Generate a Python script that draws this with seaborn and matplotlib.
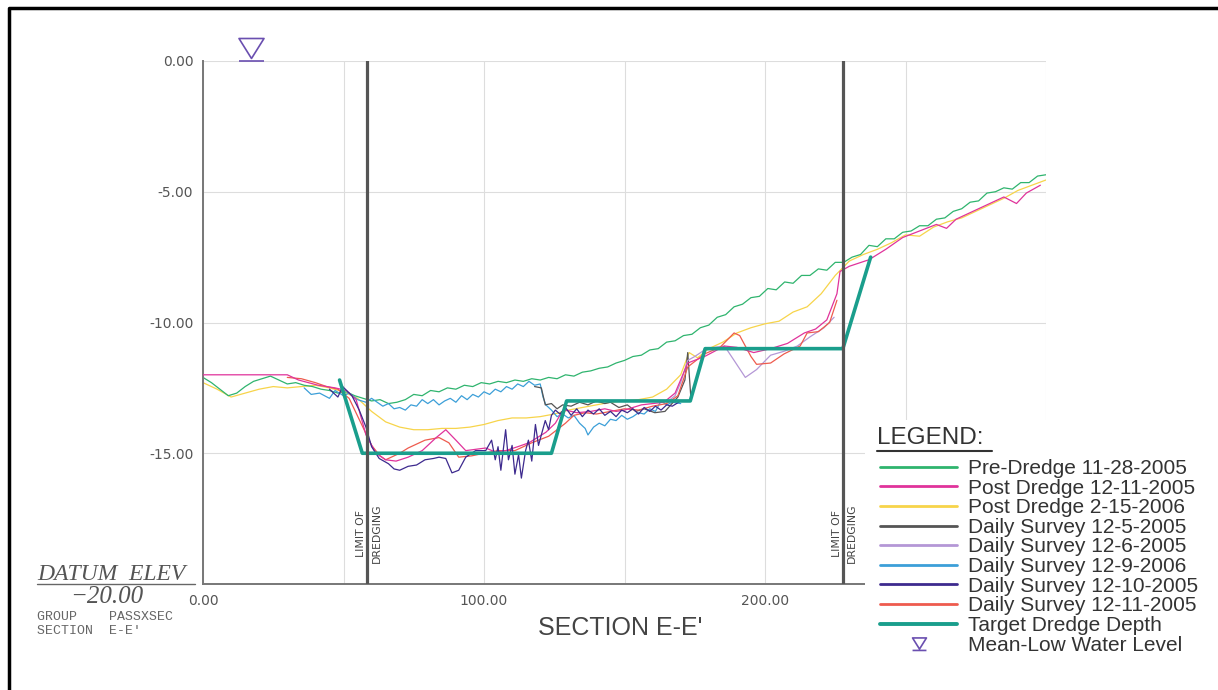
import numpy as np
import pandas as pd
import matplotlib.pyplot as plt
import seaborn as sns
from matplotlib.lines import Line2D
from matplotlib.patches import Rectangle
from matplotlib.path import Path


pre_x = list(range(0, 301, 3))
pre_y = [-12.10, -12.30, -12.55, -12.80, -12.70, -12.45, -12.25, -12.15, -12.05, -12.20,
         -12.35, -12.30, -12.40, -12.45, -12.55, -12.60, -12.70, -12.65, -12.80, -12.90,
         -13.00, -12.95, -13.10, -13.05, -12.95, -12.75, -12.80, -12.60, -12.65, -12.50,
         -12.55, -12.40, -12.45, -12.30, -12.35, -12.25, -12.30, -12.20, -12.25, -12.15,
         -12.20, -12.10, -12.15, -12.00, -12.05, -11.90, -11.85, -11.75, -11.70, -11.55,
         -11.45, -11.30, -11.25, -11.05, -11.00, -10.75, -10.70, -10.50, -10.45, -10.20,
         -10.10, -9.80, -9.70, -9.40, -9.30, -9.05, -9.00, -8.70, -8.75, -8.45,
         -8.50, -8.20, -8.20, -7.95, -8.00, -7.70, -7.70, -7.50, -7.40, -7.05,
         -7.10, -6.80, -6.80, -6.55, -6.50, -6.30, -6.30, -6.05, -6.00, -5.75,
         -5.65, -5.40, -5.35, -5.05, -5.00, -4.85, -4.90, -4.65, -4.65, -4.40,
         -4.35]

post1211_x = [0, 10, 20, 30, 34, 41, 47, 51, 54.5, 58, 61.6, 65, 68.7, 73, 78, 83, 86.4, 90,
              93.5, 97, 100.6, 104, 107.7, 112, 116, 119, 122, 125.4, 127, 129, 133, 138,
              143, 147, 150, 153, 156, 160, 164, 168, 172.5, 178.5, 185.6, 190, 196, 202,
              208, 214, 218, 222, 225.6, 226.7, 230, 237, 243, 249, 255, 261, 264.6, 268,
              273, 279, 285, 289.5, 293, 298]
post1211_y = [-12.00, -12.00, -12.00, -12.00, -12.20, -12.40, -12.50, -12.60, -12.95, -14.30,
              -15.00, -15.25, -15.30, -15.15, -14.90, -14.40, -14.10, -14.50, -14.90, -14.85,
              -14.80, -14.95, -14.90, -14.75, -14.60, -14.40, -14.20, -13.85, -13.55, -13.35,
              -13.45, -13.40, -13.30, -13.40, -13.35, -13.25, -13.15, -13.10, -13.05, -12.70,
              -11.55, -11.30, -10.90, -10.95, -11.15, -11.00, -10.80, -10.40, -10.25, -9.90,
              -8.90, -8.05, -7.85, -7.60, -7.20, -6.75, -6.50, -6.25, -6.40, -6.05,
              -5.80, -5.50, -5.20, -5.45, -5.05, -4.75]

post0215_x = [0, 5, 10, 15, 20, 25, 30, 35, 40, 45, 50, 55, 60, 65, 70, 75, 80, 85, 90, 95,
              100, 105, 110, 115, 120, 125, 130, 135, 140, 145, 150, 155, 160, 165, 170, 173,
              176, 180, 185, 190, 195, 200, 205, 210, 215, 220, 225, 230, 235, 240, 245, 250,
              255, 260, 265, 270, 275, 280, 285, 290, 295, 300]
post0215_y = [-12.30, -12.55, -12.85, -12.70, -12.55, -12.45, -12.50, -12.45, -12.40, -12.50,
              -12.65, -12.90, -13.40, -13.80, -14.00, -14.10, -14.10, -14.05, -14.05, -14.00,
              -13.90, -13.75, -13.65, -13.65, -13.60, -13.50, -13.35, -13.25, -13.15, -13.05,
              -13.00, -12.95, -12.85, -12.55, -12.00, -11.15, -11.35, -11.00, -10.75, -10.40,
              -10.20, -10.05, -9.95, -9.60, -9.40, -8.90, -8.20, -7.65, -7.40, -7.20,
              -6.95, -6.65, -6.70, -6.35, -6.15, -6.00, -5.75, -5.50, -5.25, -4.95,
              -4.75, -4.55]

d1205_x = [118, 120.4, 121.8, 124, 126, 128, 131, 134, 137, 140, 143, 145, 148, 151, 154,
           157, 160.8, 164.4, 166.5, 169, 171.5, 172.5, 173.6]
d1205_y = [-12.45, -12.50, -13.15, -13.10, -13.30, -13.15, -13.20, -13.05, -13.15, -13.00,
           -13.10, -13.05, -13.25, -13.15, -13.40, -13.30, -13.45, -13.40, -13.15, -12.85,
           -12.20, -11.15, -12.85]

d1206_x = [165, 168, 170, 172.5, 175, 178.5, 182, 185.6, 189, 193, 197, 202, 206.8, 211.5,
           216, 221, 224.6]
d1206_y = [-13.05, -12.80, -12.30, -11.45, -11.30, -11.05, -10.95, -10.90, -11.45, -12.10,
           -11.80, -11.25, -11.10, -10.90, -10.55, -10.20, -9.80]

d1209_x = [36, 38.5, 41.5, 45, 47, 50, 52, 55, 58, 60, 62, 64, 66, 68, 70, 72, 74, 76, 78,
           80, 82, 84, 86, 88, 90, 92, 94, 96, 98, 100, 102, 104, 106, 108, 110, 112, 114,
           116, 118, 120, 121, 122, 124, 126, 128, 130, 132, 134, 136, 137, 139, 141, 143,
           145, 147, 149, 151, 153, 155, 157, 159, 161, 163, 165, 167, 170]
d1209_y = [-12.50, -12.75, -12.70, -12.90, -12.60, -12.80, -12.70, -12.95, -13.05, -12.90,
           -13.05, -13.20, -13.10, -13.30, -13.25, -13.35, -13.15, -13.20, -12.95, -13.10,
           -12.95, -13.15, -13.00, -12.90, -13.05, -12.80, -12.95, -12.75, -12.85, -12.65,
           -12.75, -12.55, -12.65, -12.45, -12.55, -12.35, -12.45, -12.25, -12.40, -12.35,
           -12.85, -13.15, -13.35, -13.60, -13.50, -13.65, -13.55, -13.85, -14.05, -14.30,
           -14.00, -13.85, -13.95, -13.70, -13.75, -13.55, -13.70, -13.60, -13.45, -13.50,
           -13.30, -13.40, -13.00, -13.15, -13.05, -13.10]

d1210_x = [45, 48, 49.7, 53, 55.6, 58, 60, 62.7, 66, 68, 70, 73, 76, 79, 82, 84, 86.4, 88.6,
           91, 93.5, 97, 100.6, 102.7, 104, 105, 106, 107.7, 108.7, 110, 111, 112.3, 113.3,
           114.8, 115.8, 117, 118.3, 119.4, 120.4, 121.8, 123, 124, 125.4, 127, 129, 131,
           133, 135, 137, 139, 141, 143, 145, 147, 149, 151, 153, 155, 157, 159, 161, 163,
           165, 167, 170]
d1210_y = [-12.55, -12.85, -12.45, -12.80, -13.35, -14.00, -14.75, -15.20, -15.40, -15.60,
           -15.65, -15.50, -15.45, -15.25, -15.20, -15.15, -15.20, -15.75, -15.65, -15.15,
           -14.90, -14.90, -14.50, -15.25, -14.75, -15.65, -14.10, -15.25, -14.70, -15.80,
           -15.05, -15.95, -14.90, -14.50, -15.30, -13.90, -14.70, -14.30, -13.75, -14.10,
           -13.55, -13.35, -13.50, -13.25, -13.55, -13.30, -13.60, -13.35, -13.50, -13.30,
           -13.55, -13.40, -13.60, -13.35, -13.45, -13.30, -13.50, -13.25, -13.40, -13.20,
           -13.35, -13.15, -13.20, -13.00]

d1211_x = [30, 35, 40, 44, 48, 52, 56, 60, 63, 65, 70, 73, 79, 84, 87.5, 91, 95.6, 100, 105,
           111, 117, 123, 129, 132, 136, 140, 145, 150, 155, 160, 165, 169, 172.5, 178.5,
           184, 189, 191, 195, 197, 202, 206.8, 212.5, 215, 219, 223, 225.6]
d1211_y = [-12.10, -12.15, -12.30, -12.45, -12.55, -12.90, -13.80, -14.70, -15.10, -15.25,
           -15.00, -14.80, -14.50, -14.40, -14.60, -15.15, -15.10, -15.00, -14.90, -14.90,
           -14.60, -14.35, -13.85, -13.55, -13.45, -13.50, -13.40, -13.30, -13.35, -13.20,
           -13.10, -12.80, -11.70, -11.20, -10.95, -10.40, -10.50, -11.30, -11.60, -11.55,
           -11.20, -10.90, -10.40, -10.35, -10.00, -9.15]

target_x = [48.6, 56.7, 124, 129.4, 173.4, 178.7, 227.7, 237.6]
target_y = [-12.2, -15.0, -15.0, -13.0, -13.0, -11.0, -11.0, -7.5]

limit_x = [58.5, 227.7]
mlw_x = [17.0]
mlw_y = [0.48]

labels = ['Pre-Dredge 11-28-2005', 'Post Dredge 12-11-2005', 'Post Dredge 2-15-2006',
          'Daily Survey 12-5-2005', 'Daily Survey 12-6-2005', 'Daily Survey 12-9-2006',
          'Daily Survey 12-10-2005', 'Daily Survey 12-11-2005', 'Target Dredge Depth',
          'Mean-Low Water Level']
colors = ['#2fb46e', '#e0339b', '#f7d44a', '#555555', '#b497d6', '#3c9fd8',
          '#3d2a8e', '#ee5b4e', '#1a9e8c', '#6a4fb0']

xtick_vals = [0, 50, 100, 150, 200, 250, 300]
xtick_labels = ['0.00', '', '100.00', '', '200.00', '', '']
ytick_vals = [0, -5, -10, -15, -20]
ytick_labels = ['0.00', '-5.00', '-10.00', '-15.00', '']


sns.set_style('white')
plt.rcParams['font.family'] = ['Liberation Sans', 'DejaVu Sans']

fig = plt.figure(figsize=(12.18, 6.9), dpi=100)
ax = fig.add_axes([203/1218, 106/690, 843/1218, 523/690])

# (x, y, label index, linewidth, zorder) -- drawing order
series = [
    (post0215_x, post0215_y, 2, 0.9, 2),
    (pre_x, pre_y, 0, 0.9, 2),
    (d1209_x, d1209_y, 5, 0.9, 3),
    (d1205_x, d1205_y, 3, 0.9, 3),
    (d1206_x, d1206_y, 4, 0.9, 3),
    (d1211_x, d1211_y, 7, 0.9, 3),
    (post1211_x, post1211_y, 1, 0.9, 3),
    (d1210_x, d1210_y, 6, 0.9, 3),
    (target_x, target_y, 8, 2.6, 4),
]
for xs, ys, i, lw, z in series:
    sns.lineplot(x=xs, y=ys, ax=ax, color=colors[i], linewidth=lw, estimator=None,
                 sort=False, label=labels[i], legend=False, zorder=z)

# limit of dredging lines
for lx in limit_x:
    ax.axvline(lx, color='#555555', lw=2.3, zorder=5)
    ax.text(lx - 2.1, -18.05, 'LIMIT OF', rotation=90, ha='center', va='center',
            fontsize=7.8, color='#444444', family='DejaVu Sans')
    ax.text(lx + 3.2, -18.05, 'DREDGING', rotation=90, ha='center', va='center',
            fontsize=7.8, color='#444444', family='DejaVu Sans')

# mean low water symbol: open triangle over a bar
mlw_path = Path([(-1, 0.8), (1, 0.8), (0, -0.8), (-1, 0.8), (-1, -1), (1, -1)],
                [Path.MOVETO, Path.LINETO, Path.LINETO, Path.CLOSEPOLY, Path.MOVETO, Path.LINETO])
ax.plot(mlw_x, mlw_y, ls='none', marker=mlw_path, markersize=18, mfc='none',
        mec=colors[9], mew=1.2, clip_on=False, zorder=6)

ax.set_xlim(0, 300)
ax.set_ylim(-20, 0)
ax.set_xticks(xtick_vals)
ax.set_xticklabels(xtick_labels)
ax.set_yticks(ytick_vals)
ax.set_yticklabels(ytick_labels)
ax.tick_params(length=0, labelsize=10, labelcolor='#555555', pad=7)
for t in ax.get_xticklabels() + ax.get_yticklabels():
    t.set_family('DejaVu Sans')
ax.grid(True, color='#dddddd', lw=0.8)
ax.set_axisbelow(True)
for s in ['top', 'right']:
    ax.spines[s].set_visible(False)
for s in ['left', 'bottom']:
    ax.spines[s].set_color('#777777')
    ax.spines[s].set_linewidth(1.4)
ax.set_xlabel('')
ax.set_ylabel('')

# white panel behind the legend
fig.add_artist(Rectangle((865/1218, 0), 353/1218, 270/690, transform=fig.transFigure,
                         facecolor='white', edgecolor='none', zorder=3))

handles, hl = ax.get_legend_handles_labels()
hmap = dict(zip(hl, handles))
leg_handles = [hmap[l] for l in labels[:9]]
leg_handles.append(Line2D([], [], ls='none', marker=mlw_path, markersize=10, mfc='none',
                          mec=colors[9], mew=1.2))
leg = fig.legend(leg_handles, labels, loc='upper left',
                 bbox_to_anchor=(880/1218, (690-459)/690), frameon=False,
                 borderpad=0, borderaxespad=0, fontsize=15, labelspacing=0.03,
                 handlelength=3.7, handletextpad=0.5, numpoints=1)
for line in leg.get_lines()[:8]:
    line.set_linewidth(2.0)
leg.get_lines()[8].set_linewidth(2.8)
for t in leg.get_texts():
    t.set_color('#333333')
leg.set_zorder(6)

fig.text(877/1218, (690-438)/690, 'LEGEND:', fontsize=17.5, color='#333333',
         va='center', ha='left', zorder=6)
fig.add_artist(Line2D([877/1218, 992/1218], [(690-451)/690, (690-451)/690],
                      transform=fig.transFigure, color='#333333', lw=1.5, zorder=6))

# title and datum block
fig.text(620/1218, (690-628)/690, "SECTION E-E'", fontsize=18, color='#444444',
         ha='center', va='center')
fig.text(37/1218, (690-574)/690, 'DATUM  ELEV', fontsize=17, style='italic',
         family='Liberation Serif', color='#555555', ha='left', va='center')
fig.add_artist(Line2D([37/1218, 195/1218], [106/690, 106/690], transform=fig.transFigure,
                      color='#666666', lw=1.0))
fig.text(70/1218, (690-597)/690, '\u221220.00', fontsize=18, style='italic',
         family='Liberation Serif', color='#555555', ha='left', va='center')
fig.text(37/1218, (690-617)/690, 'GROUP    PASSXSEC', fontsize=9.5, family='Liberation Mono',
         color='#666666', ha='left', va='center')
fig.text(37/1218, (690-631)/690, "SECTION  E-E'", fontsize=9.5, family='Liberation Mono',
         color='#666666', ha='left', va='center')

# drawing frame (left and top edges)
fig.add_artist(Line2D([9/1218, 9/1218, 1.0], [0.0, 682/690, 682/690], transform=fig.transFigure,
                      color='black', lw=2.5, zorder=10))

fig.savefig('out.png', dpi=100)
